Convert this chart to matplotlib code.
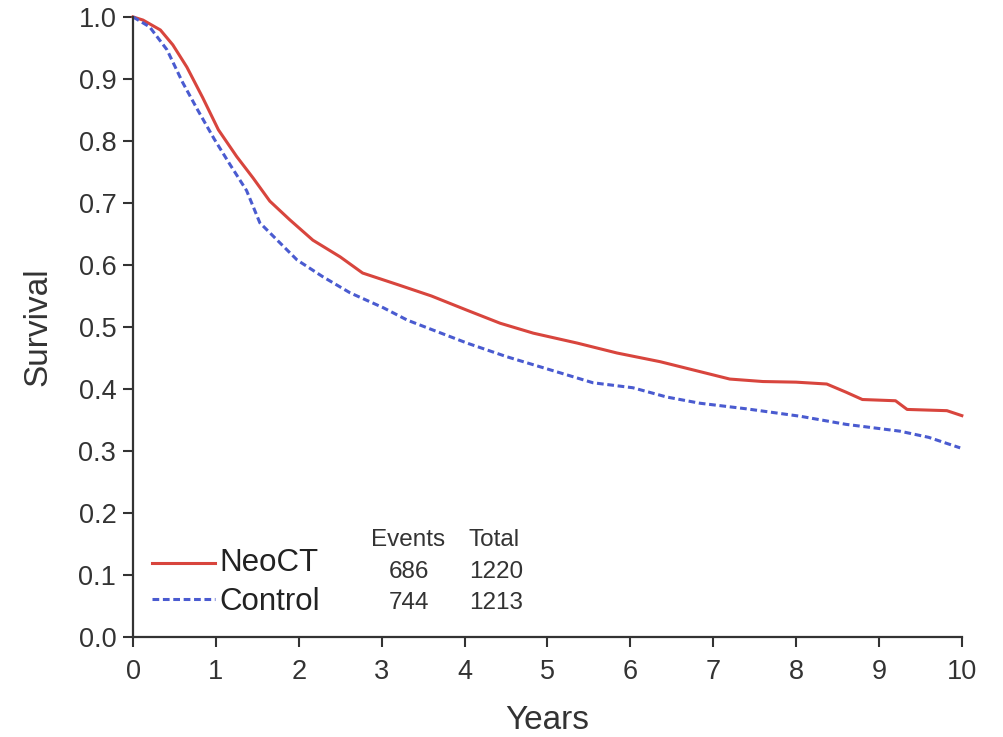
import matplotlib
matplotlib.use("Agg")
import matplotlib.pyplot as plt

plt.rcParams['font.family'] = ['Liberation Sans', 'DejaVu Sans']

# Kaplan-Meier curves (years, survival)
neoct_t = [0, 0.12, 0.33, 0.48, 0.65, 0.84, 1.03, 1.25, 1.45, 1.65, 1.89, 2.17, 2.5, 2.77,
           3.2, 3.6, 4.03, 4.43, 4.83, 5.36, 5.84, 6.36, 6.84, 7.2, 7.6, 8.0, 8.37,
           8.6, 8.8, 9.2, 9.34, 9.82, 10.0]
neoct_s = [1.0, 0.995, 0.979, 0.955, 0.919, 0.870, 0.818, 0.775, 0.740, 0.703, 0.673, 0.640,
           0.613, 0.587, 0.568, 0.550, 0.527, 0.506, 0.490, 0.474, 0.458, 0.444, 0.428,
           0.416, 0.412, 0.411, 0.408, 0.395, 0.383, 0.381, 0.367, 0.365, 0.357]

control_t = [0, 0.2, 0.41, 0.6, 0.78, 0.98, 1.17, 1.37, 1.53, 1.74, 1.98, 2.29, 2.62, 3.02,
             3.31, 3.62, 4.03, 4.51, 5.03, 5.55, 6.03, 6.44, 6.84, 7.4, 8.05, 8.6,
             9.25, 9.6, 9.98]
control_s = [1.0, 0.984, 0.947, 0.894, 0.850, 0.803, 0.762, 0.720, 0.668, 0.640, 0.608, 0.581,
             0.555, 0.531, 0.511, 0.495, 0.474, 0.452, 0.431, 0.410, 0.402, 0.387, 0.377,
             0.368, 0.356, 0.343, 0.332, 0.322, 0.305]

groups = ['NeoCT', 'Control']
events = [686, 744]
totals = [1220, 1213]

x_ticks = list(range(0, 11))
y_ticks = [round(0.1 * i, 1) for i in range(11)]

fig = plt.figure(figsize=(10.04, 7.37), dpi=100)
ax = fig.add_axes([0.1325, 0.1357, 0.8255, 0.8413])

red = '#d8453d'
blue = '#4a5bd0'
dash = (0, (2.2, 1.2))
ax.plot(neoct_t, neoct_s, color=red, lw=2.2, clip_on=False)
ax.plot(control_t, control_s, color=blue, lw=2.2, ls=dash, clip_on=False)

ax.set_xlim(0, 10)
ax.set_ylim(0, 1)
ax.set_xticks(x_ticks)
ax.set_yticks(y_ticks)
ax.set_yticklabels([f'{v:.1f}' for v in y_ticks])
ax.tick_params(labelsize=19.5, labelcolor='#333333', length=7, width=1.5, color='#333333')
ax.tick_params(axis='x', pad=9)
ax.tick_params(axis='y', pad=5)
for side in ['top', 'right']:
    ax.spines[side].set_visible(False)
for side in ['left', 'bottom']:
    ax.spines[side].set_linewidth(1.6)
    ax.spines[side].set_color('#333333')

ax.set_xlabel('Years', fontsize=24, color='#333333', labelpad=14)
ax.set_ylabel('Survival', fontsize=24, color='#333333', labelpad=18)

# legend with events table
tr = ax.transAxes
line_y = [0.119, 0.062]
text_y = [0.119, 0.056]
num_y = [0.105, 0.055]
for i, (g, col, ls) in enumerate(zip(groups, [red, blue], ['-', dash])):
    ax.plot([0.023, 0.099], [line_y[i], line_y[i]], transform=tr, color=col, lw=2.2, ls=ls)
    ax.text(0.104, text_y[i], g, transform=tr, fontsize=22.5, va='center', ha='left', color='#222222')
    ax.text(0.333, num_y[i], str(events[i]), transform=tr, fontsize=17.5, va='center',
            ha='center', color='#333333')
    ax.text(0.438, num_y[i], str(totals[i]), transform=tr, fontsize=17.5, va='center',
            ha='center', color='#333333')
ax.text(0.332, 0.156, 'Events', transform=tr, fontsize=17.5, va='center', ha='center', color='#333333')
ax.text(0.436, 0.156, 'Total', transform=tr, fontsize=17.5, va='center', ha='center', color='#333333')

fig.savefig('out.png', dpi=100)
